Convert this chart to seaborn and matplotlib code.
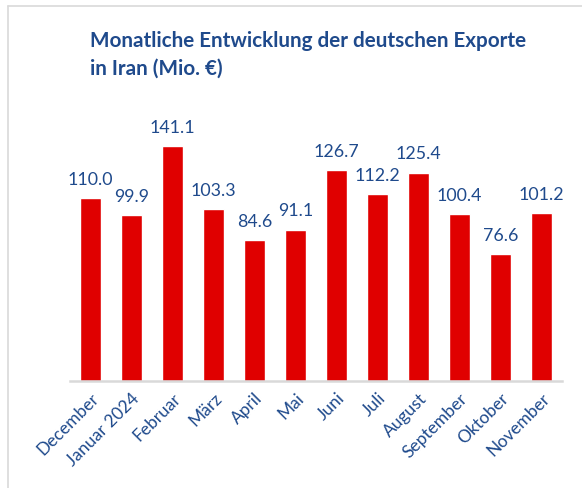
import matplotlib
matplotlib.use("Agg")
import matplotlib.pyplot as plt
import seaborn as sns
import pandas as pd
from matplotlib.lines import Line2D

months = ["December", "Januar 2024", "Februar", "März", "April", "Mai", "Juni",
          "Juli", "August", "September", "Oktober", "November"]
values = [110.0, 99.9, 141.1, 103.3, 84.6, 91.1, 126.7, 112.2, 125.4, 100.4, 76.6, 101.2]
title = "Monatliche Entwicklung der deutschen Exporte\nin Iran (Mio. €)"

sns.set_theme(style="white")
plt.rcParams['font.family'] = ['Lato', 'DejaVu Sans']

BLUE = "#1F4A8C"
RED = "#E00000"

df = pd.DataFrame({"Monat": months, "Wert": values})

fig = plt.figure(figsize=(5.82, 4.89), dpi=100)
ax = fig.add_axes([70/582, 1-382/489, (562-70)/582, (382-116)/489])
sns.barplot(data=df, x="Monat", y="Wert", color=RED, width=0.51, saturation=1, ax=ax)
ax.set_ylim(0, 160)
ax.set_xlim(-0.5, len(months)-0.5)
ax.set_xlabel("")
ax.set_ylabel("")
ax.set_yticks([])
for s in ["top", "right", "left"]:
    ax.spines[s].set_visible(False)
ax.spines["bottom"].set_color("#D9D9D9")
ax.spines["bottom"].set_linewidth(1.8)
ax.tick_params(axis="x", length=0, pad=6)
ax.set_xticks(range(len(months)))
ax.set_xticklabels(months, rotation=45, ha="right", rotation_mode="anchor",
                   fontsize=12.5, color=BLUE)
for i, v in enumerate(values):
    ax.annotate(f"{v:.1f}", (i, v), xytext=(0, 8), textcoords="offset points",
                ha="center", va="bottom", fontsize=12.8, color=BLUE)

fig.text(90/582, 1-31/489, title, ha="left", va="top", fontsize=14.9,
         fontweight="bold", color=BLUE, linespacing=1.5)

fig.add_artist(Line2D([8/582, 1], [1-7/489, 1-7/489], color="#D9D9D9", lw=1.2,
                      transform=fig.transFigure))
fig.add_artist(Line2D([8/582, 8/582], [0, 1-7/489], color="#D9D9D9", lw=1.2,
                      transform=fig.transFigure))

fig.savefig("out.png", dpi=100)
